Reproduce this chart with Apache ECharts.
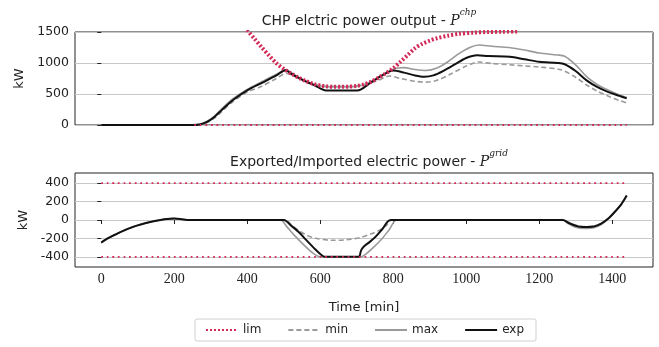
<!DOCTYPE html>
<html>
<head>
<meta charset="utf-8">
<script src="https://cdn.jsdelivr.net/npm/echarts@6/dist/echarts.min.js"></script>
<style>
html, body { margin: 0; padding: 0; background: #fff; }
#main { width: 659px; height: 347px; }
</style>
</head>
<body>
<div id="main"></div>
<script>
// time axis ticks [min]
var timeTicks = [0, 200, 400, 600, 800, 1000, 1200, 1400];
var gridTicks = [-400, -200, 0, 200, 400];

// CHP electric power output [kW], pairs of [time, value]
var chpLimUpper = [[380, 1690], [400, 1530], [420, 1390], [440, 1250], [460, 1120], [480, 995], [500, 905],
    [520, 830], [540, 765], [560, 710], [580, 665], [600, 638], [620, 622], [640, 615], [660, 615], [680, 620],
    [700, 630], [720, 655], [740, 700], [760, 765], [780, 835], [800, 915], [820, 1020], [840, 1130],
    [860, 1240], [880, 1310], [900, 1360], [920, 1400], [950, 1440], [980, 1470], [1020, 1490], [1060, 1500],
    [1100, 1505], [1140, 1510]];
var chpLimLower = [[255, 0], [1440, 0]];
var chpMin = [[0, 0], [250, 0], [270, 5], [290, 38], [310, 110], [330, 215], [360, 375], [400, 530],
    [440, 625], [480, 750], [505, 830], [540, 760], [580, 665], [620, 625], [680, 625], [720, 650],
    [760, 725], [790, 790], [820, 750], [860, 705], [890, 692], [920, 720], [960, 830], [1000, 950],
    [1035, 1015], [1070, 992], [1117, 972], [1160, 952], [1200, 935], [1260, 890], [1300, 770],
    [1330, 645], [1360, 545], [1390, 465], [1420, 395], [1440, 355]];
var chpMax = [[0, 0], [250, 0], [270, 10], [290, 60], [310, 145], [330, 260], [360, 420], [400, 575],
    [440, 700], [480, 820], [505, 890], [540, 765], [580, 660], [620, 615], [680, 615], [720, 650],
    [760, 765], [800, 900], [830, 925], [860, 895], [890, 880], [920, 920], [950, 1020], [980, 1150],
    [1010, 1250], [1035, 1290], [1070, 1270], [1117, 1250], [1160, 1210], [1200, 1160], [1250, 1130],
    [1270, 1110], [1300, 970], [1330, 780], [1360, 650], [1390, 560], [1420, 485], [1440, 445]];
var chpExp = [[0, 0], [250, 0], [270, 8], [290, 50], [310, 130], [330, 240], [360, 400], [400, 560],
    [440, 680], [480, 800], [505, 885], [520, 830], [540, 765], [560, 705], [580, 650], [600, 590],
    [615, 558], [700, 558], [712, 575], [740, 690], [770, 800], [800, 880], [830, 845], [860, 800],
    [885, 780], [910, 800], [940, 880], [970, 980], [1000, 1080], [1030, 1125], [1060, 1112],
    [1120, 1100], [1160, 1060], [1200, 1020], [1250, 1000], [1270, 980], [1300, 870], [1330, 720],
    [1360, 610], [1390, 530], [1420, 470], [1440, 430]];

// Exported/Imported electric power [kW]
var gridLimUpper = [[0, 400], [1440, 400]];
var gridLimLower = [[0, -400], [1440, -400]];
var gridMin = [[0, -245], [20, -195], [40, -155], [60, -118], [80, -85], [100, -58], [120, -35],
    [140, -17], [160, -2], [180, 12], [200, 15], [220, 8], [235, 0], [505, 0], [520, -50], [540, -110],
    [560, -160], [590, -200], [630, -220], [670, -215], [710, -190], [740, -150], [760, -115], [780, -65],
    [796, 0], [1265, 0], [1280, -25], [1300, -55], [1320, -70], [1350, -65], [1370, -35], [1392, 25],
    [1410, 100], [1425, 170], [1440, 265]];
var gridMax = [[0, -245], [20, -195], [40, -155], [60, -118], [80, -85], [100, -58], [120, -35],
    [140, -17], [160, -2], [180, 12], [200, 15], [220, 8], [235, 0], [490, 0], [510, -80], [530, -170],
    [555, -270], [580, -360], [600, -400], [712, -400], [725, -370], [745, -300], [770, -200], [790, -100],
    [810, 0], [1265, 0], [1280, -40], [1300, -78], [1325, -92], [1350, -85], [1370, -50], [1392, 25],
    [1410, 100], [1425, 170], [1440, 265]];
var gridExp = [[0, -245], [20, -195], [40, -155], [60, -118], [80, -85], [100, -58], [120, -35],
    [140, -17], [160, -2], [180, 12], [200, 15], [220, 8], [235, 0], [500, 0], [520, -60], [541, -130],
    [560, -210], [587, -320], [605, -385], [615, -400], [705, -400], [712, -330], [719, -290], [735, -240],
    [752, -180], [770, -100], [793, 0], [1265, 0], [1280, -30], [1300, -62], [1320, -76], [1350, -70],
    [1370, -40], [1392, 25], [1410, 100], [1425, 170], [1440, 265]];

var RED = '#d42a58';
var GREY = '#9a9a9a';

var myChart = echarts.init(document.getElementById('main'), null, {renderer: 'canvas'});

function plain(v) {
    return String(v);
}

function yAxisCommon(idx) {
    return {
        type: 'value',
        gridIndex: idx,
        name: 'kW',
        nameLocation: 'middle',
        nameGap: 45,
        nameTextStyle: {fontFamily: 'DejaVu Sans', fontSize: 13, color: '#222'},
        axisLine: {show: false},
        axisTick: {show: true, length: 4, lineStyle: {color: '#222'}},
        axisLabel: {fontFamily: 'DejaVu Sans', fontSize: 12.5, color: '#222', margin: 6, formatter: plain},
        splitLine: {show: true, lineStyle: {color: '#c8c8c8', width: 1}}
    };
}

function lineSeries(name, data, xi, style, z) {
    return {
        name: name,
        type: 'line',
        xAxisIndex: xi,
        yAxisIndex: xi,
        data: data,
        showSymbol: false,
        symbol: 'none',
        smooth: 0.3,
        clip: true,
        z: z,
        lineStyle: style,
        itemStyle: {color: style.color},
        animation: false
    };
}

function titleRich() {
    return {
        t: {fontFamily: 'DejaVu Sans', fontSize: 14, fontWeight: 'normal', color: '#222', lineHeight: 20, verticalAlign: 'bottom'},
        p: {fontFamily: 'DejaVu Serif', fontStyle: 'italic', fontWeight: 'normal', fontSize: 14, color: '#222', lineHeight: 20, verticalAlign: 'bottom'},
        s: {fontFamily: 'DejaVu Serif', fontStyle: 'italic', fontWeight: 'normal', fontSize: 9, color: '#222', lineHeight: 20, verticalAlign: 'top'}
    };
}

var topY = yAxisCommon(0);
topY.min = 0;
topY.max = 1500;
topY.interval = 500;

var botY = yAxisCommon(1);
botY.min = -510;
botY.max = 510;
botY.axisLabel.customValues = gridTicks;
botY.axisTick.customValues = gridTicks;

var limTop = {color: RED, width: 4, type: [2, 2]};
var limBot = {color: RED, width: 1.8, type: [1.8, 3.8]};
var minStyle = {color: GREY, width: 1.6, type: [5, 3]};
var maxStyle = {color: GREY, width: 1.6, type: 'solid'};
var expStyle = {color: '#111', width: 2, type: 'solid'};

var option = {
    backgroundColor: '#fff',
    animation: false,
    title: [
        {
            text: '{t|CHP elctric power output - }{p|P}{s|chp}',
            left: 364,
            top: 3,
            textAlign: 'center',
            textStyle: {fontWeight: 'normal', rich: titleRich()}
        },
        {
            text: '{t|Exported/Imported electric power - }{p|P}{s|grid}',
            left: 364,
            top: 144,
            textAlign: 'center',
            textStyle: {fontWeight: 'normal', rich: titleRich()}
        }
    ],
    legend: {
        left: 195,
        top: 319,
        itemWidth: 32,
        itemHeight: 10,
        itemGap: 26,
        padding: [5, 12, 5, 10],
        borderColor: '#d0d0d0',
        borderWidth: 1,
        borderRadius: 2,
        itemStyle: {opacity: 0},
        textStyle: {fontFamily: 'DejaVu Sans', fontSize: 12, color: '#222'},
        data: ['lim', 'min', 'max', 'exp']
    },
    grid: [
        {left: 75, right: 6, top: 32, height: 93, show: true, borderColor: '#222', borderWidth: 1, backgroundColor: 'transparent'},
        {left: 75, right: 6, top: 173, height: 94, show: true, borderColor: '#222', borderWidth: 1, backgroundColor: 'transparent'}
    ],
    xAxis: [
        {
            type: 'value', gridIndex: 0, min: -72, max: 1512,
            axisLine: {show: false}, axisTick: {show: false}, axisLabel: {show: false},
            splitLine: {show: false}
        },
        {
            type: 'value', gridIndex: 1, min: -72, max: 1512,
            name: 'Time [min]',
            nameLocation: 'middle',
            nameGap: 34,
            nameTextStyle: {fontFamily: 'DejaVu Sans', fontSize: 13, color: '#222'},
            axisLine: {show: false},
            axisTick: {show: true, length: 4, customValues: timeTicks, lineStyle: {color: '#222'}},
            axisLabel: {customValues: timeTicks, fontFamily: 'Liberation Serif', fontSize: 14, color: '#222', margin: 5, formatter: plain},
            splitLine: {show: false}
        }
    ],
    yAxis: [topY, botY],
    series: [
        lineSeries('min', chpMin, 0, minStyle, 2),
        lineSeries('max', chpMax, 0, maxStyle, 3),
        lineSeries('exp', chpExp, 0, expStyle, 4),
        lineSeries('lim', chpLimUpper, 0, limTop, 5),
        lineSeries('lim', chpLimLower, 0, limBot, 5),
        lineSeries('min', gridMin, 1, minStyle, 2),
        lineSeries('max', gridMax, 1, maxStyle, 3),
        lineSeries('exp', gridExp, 1, expStyle, 4),
        lineSeries('lim', gridLimUpper, 1, limBot, 5),
        lineSeries('lim', gridLimLower, 1, limBot, 5)
    ]
};
myChart.setOption(option);
</script>
</body>
</html>
